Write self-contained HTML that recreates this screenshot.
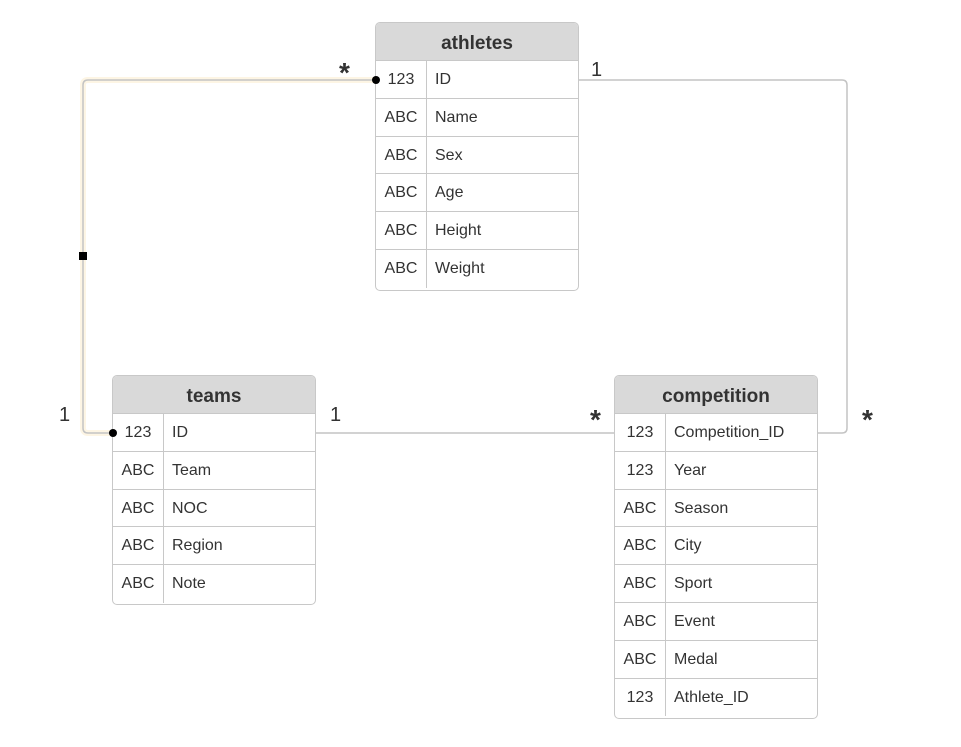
<!DOCTYPE html>
<html><head><style>
body{margin:0;width:961px;height:747px;background:#fff;position:relative;font-family:"Liberation Sans",Arial,sans-serif;overflow:hidden}
.t{position:absolute;border:1px solid #c8c8c8;border-radius:5px;background:#fff;overflow:hidden;box-sizing:border-box}
.h{height:38px;background:#d9d9d9;border-bottom:1px solid #c8c8c8;box-sizing:border-box;text-align:center;font-weight:bold;font-size:19px;line-height:42px;color:#333}
.r{height:37.8px;border-bottom:1px solid #c8c8c8;box-sizing:border-box;display:flex;font-size:16px;color:#333;line-height:37px}
.r:last-child{border-bottom:none}
.a{width:51px;border-right:1px solid #c8c8c8;text-align:center;box-sizing:border-box}
.b{padding-left:8px}
.l{position:absolute;font-size:20px;color:#333}
.s{position:absolute;font-size:28px;font-weight:bold;color:#333}
</style></head><body>
<svg width="961" height="747" style="position:absolute;left:0;top:0">
<g fill="none" stroke="#c4c4c4" stroke-width="1.5">
<path d="M376 80 H88 Q83 80 83 85 V428 Q83 433 88 433 H113" stroke="#fdf5e4" stroke-width="6"/>
<path d="M376 80 H88 Q83 80 83 85 V428 Q83 433 88 433 H113"/>
<path d="M315 433 H614"/>
<path d="M578 80 H842 Q847 80 847 85 V428 Q847 433 842 433 H817"/>
</g>
<rect x="79" y="252" width="8" height="8" fill="#000"/>
</svg>
<div class="s" style="left:339px;top:57px">*</div>
<div class="l" style="left:591px;top:59px">1</div>
<div class="l" style="left:59px;top:404px">1</div>
<div class="l" style="left:330px;top:404px">1</div>
<div class="s" style="left:590px;top:404px">*</div>
<div class="s" style="left:862px;top:404px">*</div>
<div class="t" style="left:375px;top:22px;width:204px;height:269px">
<div class="h">athletes</div>
<div class="r"><div class="a">123</div><div class="b">ID</div></div>
<div class="r"><div class="a">ABC</div><div class="b">Name</div></div>
<div class="r"><div class="a">ABC</div><div class="b">Sex</div></div>
<div class="r"><div class="a">ABC</div><div class="b">Age</div></div>
<div class="r"><div class="a">ABC</div><div class="b">Height</div></div>
<div class="r"><div class="a">ABC</div><div class="b">Weight</div></div>
</div>
<div class="t" style="left:112px;top:375px;width:204px;height:230px">
<div class="h">teams</div>
<div class="r"><div class="a">123</div><div class="b">ID</div></div>
<div class="r"><div class="a">ABC</div><div class="b">Team</div></div>
<div class="r"><div class="a">ABC</div><div class="b">NOC</div></div>
<div class="r"><div class="a">ABC</div><div class="b">Region</div></div>
<div class="r"><div class="a">ABC</div><div class="b">Note</div></div>
</div>
<div class="t" style="left:614px;top:375px;width:204px;height:344px">
<div class="h">competition</div>
<div class="r"><div class="a">123</div><div class="b">Competition_ID</div></div>
<div class="r"><div class="a">123</div><div class="b">Year</div></div>
<div class="r"><div class="a">ABC</div><div class="b">Season</div></div>
<div class="r"><div class="a">ABC</div><div class="b">City</div></div>
<div class="r"><div class="a">ABC</div><div class="b">Sport</div></div>
<div class="r"><div class="a">ABC</div><div class="b">Event</div></div>
<div class="r"><div class="a">ABC</div><div class="b">Medal</div></div>
<div class="r"><div class="a">123</div><div class="b">Athlete_ID</div></div>
</div>
<svg width="961" height="747" style="position:absolute;left:0;top:0">
<circle cx="376" cy="80" r="4" fill="#000"/>
<circle cx="113" cy="433" r="4" fill="#000"/>
</svg>
</body></html>
